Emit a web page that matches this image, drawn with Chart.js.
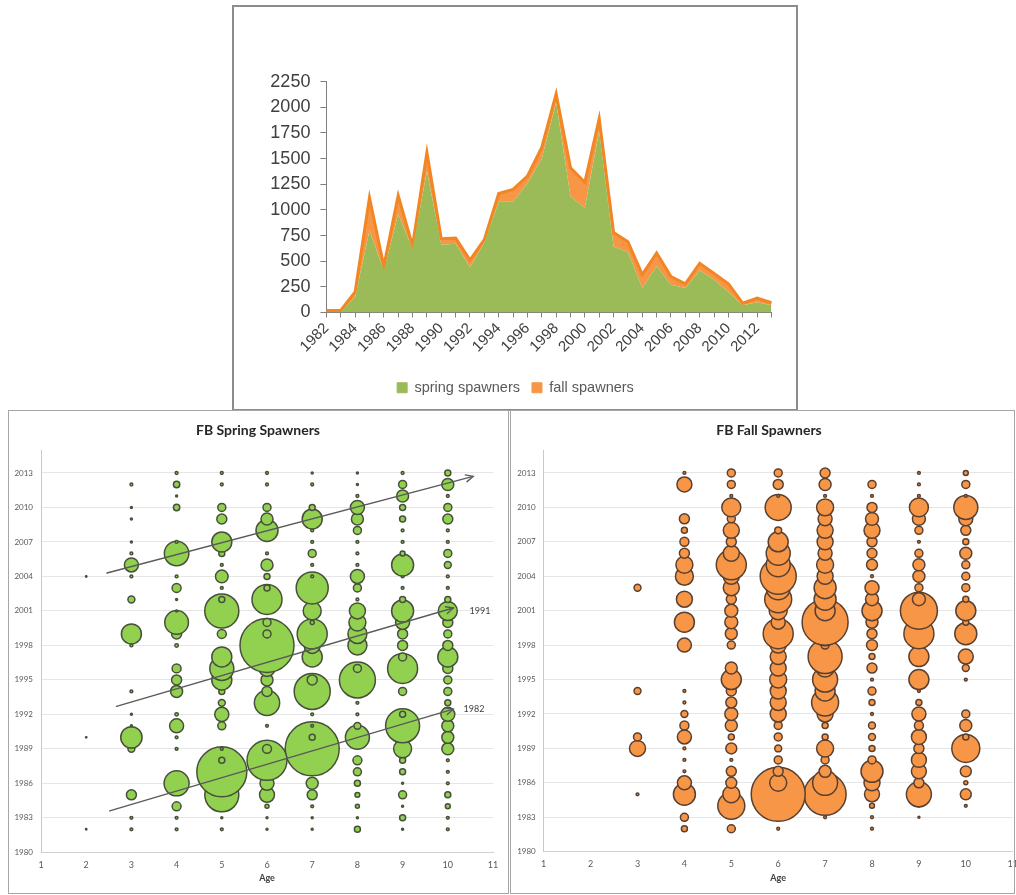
<!DOCTYPE html>
<html><head><meta charset="utf-8">
<script src="https://cdn.jsdelivr.net/npm/chart.js@4.4.1/dist/chart.umd.min.js"></script>
<style>
html,body{margin:0;padding:0;background:#fff;}
body{width:1016px;height:895px;overflow:hidden;position:relative;}
canvas{position:absolute;}
.frame{position:absolute;box-sizing:border-box;pointer-events:none;}
.title{position:absolute;font-family:Lato,'Open Sans',sans-serif;font-weight:bold;font-size:14px;line-height:17px;color:#262626;transform:translateX(-50%);white-space:nowrap;}
</style></head><body>
<canvas id="area" width="564" height="404" style="left:233px;top:6px"></canvas>
<canvas id="spring" width="498" height="481" style="left:9px;top:411px"></canvas>
<canvas id="fall" width="515" height="481" style="left:511px;top:411px"></canvas>
<div class="title" style="left:258px;top:421px">FB Spring Spawners</div>
<div class="title" style="left:769px;top:421px">FB Fall Spawners</div>
<div class="frame" style="left:232px;top:5px;width:566px;height:406px;border:2px solid #8c8c8c"></div>
<div class="frame" style="left:8px;top:410px;width:501px;height:484px;border:1px solid #a6a6a6"></div>
<div class="frame" style="left:510px;top:410px;width:505px;height:484px;border:1px solid #a6a6a6"></div>
<script>
// ---------- top chart data ----------
const years = [1982,1983,1984,1985,1986,1987,1988,1989,1990,1991,1992,1993,1994,1995,1996,1997,
               1998,1999,2000,2001,2002,2003,2004,2005,2006,2007,2008,2009,2010,2011,2012,2013];
const springSpawners = [0,5,150,800,410,960,620,1380,660,670,440,680,1080,1080,1260,1500,
                        2050,1130,1020,1770,640,590,240,450,270,240,410,320,200,70,100,70];
const fallSpawners = [20,15,50,320,40,180,30,180,60,55,70,30,80,120,70,110,
                      80,280,250,120,140,100,130,130,80,40,70,60,80,20,40,25];
const areaYTicks = [0,250,500,750,1000,1250,1500,1750,2000,2250];

// ---------- bubble data: [year, abundance] per age ----------
const sp2 = [[1982,0.5],[1990,0.5],[2004,0.5]];
const sp3 = [[1982,2],[1983,2],[1985,25],[1989,12],[1990,114],[1991,1],[1992,1],[1994,2],[1998,2],[1999,100],[2002,12],[2004,2],[2005,49],[2006,2],[2007,1],[2009,1],[2010,1],[2012,2]];
const sp4 = [[1982,2],[1983,2],[1984,20],[1986,156],[1989,2],[1990,2],[1991,49],[1992,3],[1994,36],[1995,25],[1996,20],[1998,3],[1999,25],[2000,140],[2001,1],[2002,1],[2003,20],[2004,2],[2006,150],[2007,2],[2010,10],[2011,1],[2012,10],[2013,2]];
const sp5 = [[1982,2],[1983,1],[1985,289],[1987,625],[1988,9],[1989,2],[1991,16],[1992,50],[1993,12],[1994,9],[1995,100],[1996,144],[1997,100],[1999,20],[2001,290],[2002,9],[2003,2],[2004,40],[2005,2],[2006,9],[2007,100],[2009,25],[2010,16],[2012,2],[2013,2]];
const sp6 = [[1982,1],[1983,1],[1984,4],[1985,56],[1986,49],[1988,400],[1989,20],[1991,2],[1993,160],[1994,25],[1995,36],[1996,64],[1997,49],[1998,729],[1999,16],[2000,16],[2002,225],[2003,9],[2004,9],[2005,36],[2006,2],[2008,121],[2009,36],[2010,16],[2012,2],[2013,2]];
const sp7 = [[1982,1],[1983,1],[1984,2],[1985,25],[1986,36],[1989,729],[1990,9],[1991,2],[1992,2],[1994,324],[1995,25],[1997,100],[1998,64],[1999,225],[2000,4],[2001,81],[2003,256],[2004,2],[2005,2],[2006,16],[2007,2],[2008,2],[2009,100],[2010,9],[2012,2],[2013,1]];
const sp8 = [[1982,9],[1983,1],[1984,4],[1985,6],[1986,9],[1987,16],[1988,20],[1990,144],[1991,12],[1992,2],[1993,2],[1995,324],[1996,16],[1998,90],[1999,90],[2000,72],[2001,64],[2002,2],[2003,16],[2004,49],[2005,2],[2006,2],[2007,2],[2008,16],[2009,36],[2010,49],[2011,2],[2012,1],[2013,1]];
const sp9 = [[1982,1],[1983,9],[1984,1],[1985,16],[1986,1],[1987,9],[1988,9],[1989,81],[1991,289],[1992,9],[1994,16],[1995,2],[1996,225],[1997,16],[1998,25],[1999,25],[2000,49],[2001,121],[2002,9],[2003,2],[2004,2],[2005,121],[2006,6],[2007,2],[2008,2],[2009,9],[2010,9],[2011,36],[2012,16],[2013,2]];
const sp10 = [[1982,2],[1983,2],[1984,6],[1985,9],[1986,2],[1987,2],[1988,2],[1989,36],[1990,36],[1991,36],[1992,49],[1993,9],[1994,16],[1995,16],[1996,25],[1997,100],[1998,25],[1999,16],[2000,25],[2001,90],[2002,9],[2003,2],[2004,2],[2005,12],[2006,16],[2007,2],[2008,2],[2009,25],[2010,16],[2011,2],[2012,36],[2013,9]];

const fa3 = [[1985,2],[1989,64],[1990,16],[1994,12],[2003,12]];
const fa4 = [[1982,9],[1983,16],[1985,121],[1986,49],[1987,2],[1988,2],[1989,2],[1990,49],[1991,20],[1992,12],[1993,2],[1994,2],[1998,49],[2000,100],[2002,64],[2004,81],[2005,72],[2006,25],[2007,20],[2008,9],[2009,25],[2012,56],[2013,2]];
const fa5 = [[1982,16],[1984,182],[1985,72],[1986,30],[1987,25],[1988,2],[1989,30],[1990,9],[1991,36],[1992,42],[1993,30],[1994,25],[1995,100],[1996,36],[1998,16],[1999,36],[2000,42],[2001,42],[2002,25],[2003,64],[2004,64],[2005,225],[2006,64],[2007,25],[2008,64],[2009,16],[2010,90],[2011,2],[2012,16],[2013,16]];
const fa6 = [[1982,2],[1985,729],[1986,72],[1987,25],[1988,16],[1989,12],[1990,16],[1991,16],[1992,64],[1993,64],[1994,64],[1995,72],[1996,64],[1997,64],[1998,64],[1999,225],[2000,49],[2001,81],[2002,182],[2003,144],[2004,324],[2005,144],[2006,144],[2007,100],[2008,12],[2009,2],[2010,169],[2011,2],[2012,25],[2013,16]];
const fa7 = [[1983,2],[1985,441],[1986,156],[1987,36],[1988,16],[1989,72],[1990,9],[1991,9],[1992,64],[1993,182],[1994,100],[1995,156],[1996,81],[1997,289],[1998,16],[1999,144],[2000,529],[2001,100],[2002,121],[2003,121],[2004,64],[2005,72],[2006,49],[2007,64],[2008,64],[2009,49],[2010,72],[2011,2],[2012,36],[2013,25]];
const fa8 = [[1982,2],[1983,2],[1984,6],[1985,56],[1986,64],[1987,121],[1988,16],[1989,9],[1990,12],[1991,12],[1992,2],[1993,9],[1994,16],[1995,2],[1996,25],[1997,9],[1998,30],[1999,25],[2000,36],[2001,100],[2002,42],[2003,49],[2004,2],[2005,30],[2006,25],[2007,25],[2008,64],[2009,42],[2010,25],[2011,2],[2012,16]];
const fa9 = [[1983,1],[1984,2],[1985,156],[1986,25],[1987,56],[1988,56],[1989,25],[1990,56],[1991,20],[1992,49],[1993,9],[1994,2],[1995,100],[1997,100],[1999,225],[2001,342],[2002,42],[2003,16],[2004,36],[2005,36],[2006,16],[2007,2],[2008,16],[2009,42],[2010,90],[2011,2],[2012,2],[2013,2]];
const fa10 = [[1984,2],[1985,30],[1986,4],[1987,30],[1989,196],[1990,9],[1991,36],[1992,16],[1995,2],[1996,12],[1997,56],[1999,121],[2000,9],[2001,100],[2002,9],[2003,16],[2004,16],[2005,16],[2006,36],[2007,9],[2008,25],[2009,49],[2010,144],[2011,2],[2012,16],[2013,6]];

const springAges = [2,3,4,5,6,7,8,9,10];
const springSeries = [sp2,sp3,sp4,sp5,sp6,sp7,sp8,sp9,sp10];
const fallAges = [3,4,5,6,7,8,9,10];
const fallSeries = [fa3,fa4,fa5,fa6,fa7,fa8,fa9,fa10];

// cohort arrows (age, year) and their labels
const cohortArrows = [
  {from:[2.46,2004.3], to:[10.56,2012.7]},
  {from:[2.67,1992.7], to:[10.12,2001.25]},
  {from:[2.52,1983.6], to:[10.12,1992.45]}
];
const cohortLabels = [
  {text:'1991', at:[10.48,2001.0]},
  {text:'1982', at:[10.35,1992.5]}
];

// ---------- top stacked area chart ----------
const AR = 'Liberation Sans, Arial, sans-serif';
new Chart(document.getElementById('area'), {
  type: 'line',
  data: {
    labels: years.map(String),
    datasets: [
      {label:'spring spawners', data: springSpawners, fill:'origin', backgroundColor:'#9BBB59',
       borderColor:'#9BBB59', borderWidth:0, pointRadius:0, tension:0},
      {label:'fall spawners', data: fallSpawners, fill:'-1', backgroundColor:'#F79646',
       borderColor:'#F28524', borderWidth:3, pointRadius:0, tension:0}
    ]
  },
  options: {
    responsive:false, animation:false, devicePixelRatio:1,
    layout:{autoPadding:false, padding:{top:75.7,left:26.5,right:25.5,bottom:5}},
    plugins:{
      tooltip:{enabled:false},
      legend:{position:'bottom', labels:{boxWidth:10, boxHeight:10, padding:12,
        font:{family:AR,size:14.5}, color:'#595959',
        generateLabels:(chart)=>Chart.defaults.plugins.legend.labels.generateLabels(chart)
          .map(l=>Object.assign(l,{lineWidth:1, strokeStyle:l.fillStyle}))}}
    },
    scales:{
      x:{ticks:{autoSkip:false, maxRotation:45, minRotation:45, padding:2,
           font:{family:AR,size:15}, color:'#404040',
           callback:(v,i)=> i%2===0 ? String(years[i]) : ''},
         grid:{drawOnChartArea:false, drawTicks:true, tickLength:5, color:'#808080'},
         border:{display:true, color:'#808080'},
         afterFit:(s)=>{s.height=56;}},
      y:{stacked:true, min:0, max:2250,
         afterBuildTicks:(s)=>{s.ticks = areaYTicks.map(v=>({value:v}));},
         ticks:{font:{family:AR,size:18}, color:'#404040', padding:10, callback:(v)=>String(v)},
         grid:{drawOnChartArea:false, drawTicks:true, tickLength:6, color:'#808080'},
         border:{display:true, color:'#808080'},
         afterFit:(s)=>{s.width=66.9;}}
    }
  }
});

// ---------- bubble charts ----------
const FB = 'Lato, Open Sans, sans-serif';
function arrowPlugin(arrows, labels){
  return {id:'cohortArrows', afterDatasetsDraw(chart){
    const {ctx, scales:{x,y}} = chart;
    ctx.save();
    ctx.strokeStyle = '#5a5a5a'; ctx.lineWidth = 1.4; ctx.lineCap='round';
    arrows.forEach(a=>{
      const x1=x.getPixelForValue(a.from[0]), y1=y.getPixelForValue(a.from[1]);
      const x2=x.getPixelForValue(a.to[0]), y2=y.getPixelForValue(a.to[1]);
      ctx.beginPath(); ctx.moveTo(x1,y1); ctx.lineTo(x2,y2); ctx.stroke();
      const ang=Math.atan2(y2-y1,x2-x1), L=8, w=0.45;
      ctx.beginPath();
      ctx.moveTo(x2-L*Math.cos(ang-w), y2-L*Math.sin(ang-w));
      ctx.lineTo(x2,y2);
      ctx.lineTo(x2-L*Math.cos(ang+w), y2-L*Math.sin(ang+w));
      ctx.stroke();
    });
    ctx.fillStyle='#404040'; ctx.font='9px '+FB; ctx.textBaseline='middle'; ctx.textAlign='left';
    labels.forEach(l=>{ ctx.fillText(l.text, x.getPixelForValue(l.at[0]), y.getPixelForValue(l.at[1])); });
    ctx.restore();
  }};
}
function bubbleChart(id, ages, series, fill, stroke, yW, xH, padR, plugins){
  new Chart(document.getElementById(id), {
    type:'bubble',
    data:{datasets: series.map((pts,k)=>({
      label:'Age '+ages[k],
      data: pts.map(([yr,v])=>({x:ages[k], y:yr, r:Math.sqrt(v)})),
      backgroundColor:fill, borderColor:stroke, borderWidth:1.5, hoverRadius:0
    }))},
    options:{
      responsive:false, animation:false, devicePixelRatio:1,
      layout:{autoPadding:false, padding:{top:39, right:padR, left:0, bottom:0}},
      plugins:{legend:{display:false}, tooltip:{enabled:false}},
      scales:{
        x:{type:'linear', min:1, max:11,
           ticks:{stepSize:1, font:{family:FB,size:9}, color:'#595959', padding:7},
           grid:{drawOnChartArea:false, drawTicks:false},
           border:{display:true, color:'#D0D0D0'},
           title:{display:true, text:'Age', font:{family:FB,size:9,weight:'bold'}, color:'#404040',
                  padding:{top:0,bottom:8.6}},
           afterFit:(s)=>{s.height=xH;}},
        y:{type:'linear', min:1980, max:2015,
           ticks:{stepSize:3, font:{family:FB,size:8}, color:'#595959', padding:8, callback:(v)=>String(v)},
           afterBuildTicks:(s)=>{s.ticks = s.ticks.filter(t=>(t.value-1980)%3===0);},
           grid:{color:'#E6E6E6', drawTicks:false},
           border:{display:true, color:'#C8C8C8'},
           afterFit:(s)=>{s.width=yW;}}
      }
    },
    plugins: plugins
  });
}
bubbleChart('spring', springAges, springSeries, '#92D050', '#46503a', 32, 39.7, 14,
            [arrowPlugin(cohortArrows, cohortLabels)]);
bubbleChart('fall', fallAges, fallSeries, '#F79646', '#5a4030', 32.7, 40.3, 13.3, []);
</script>
</body></html>
